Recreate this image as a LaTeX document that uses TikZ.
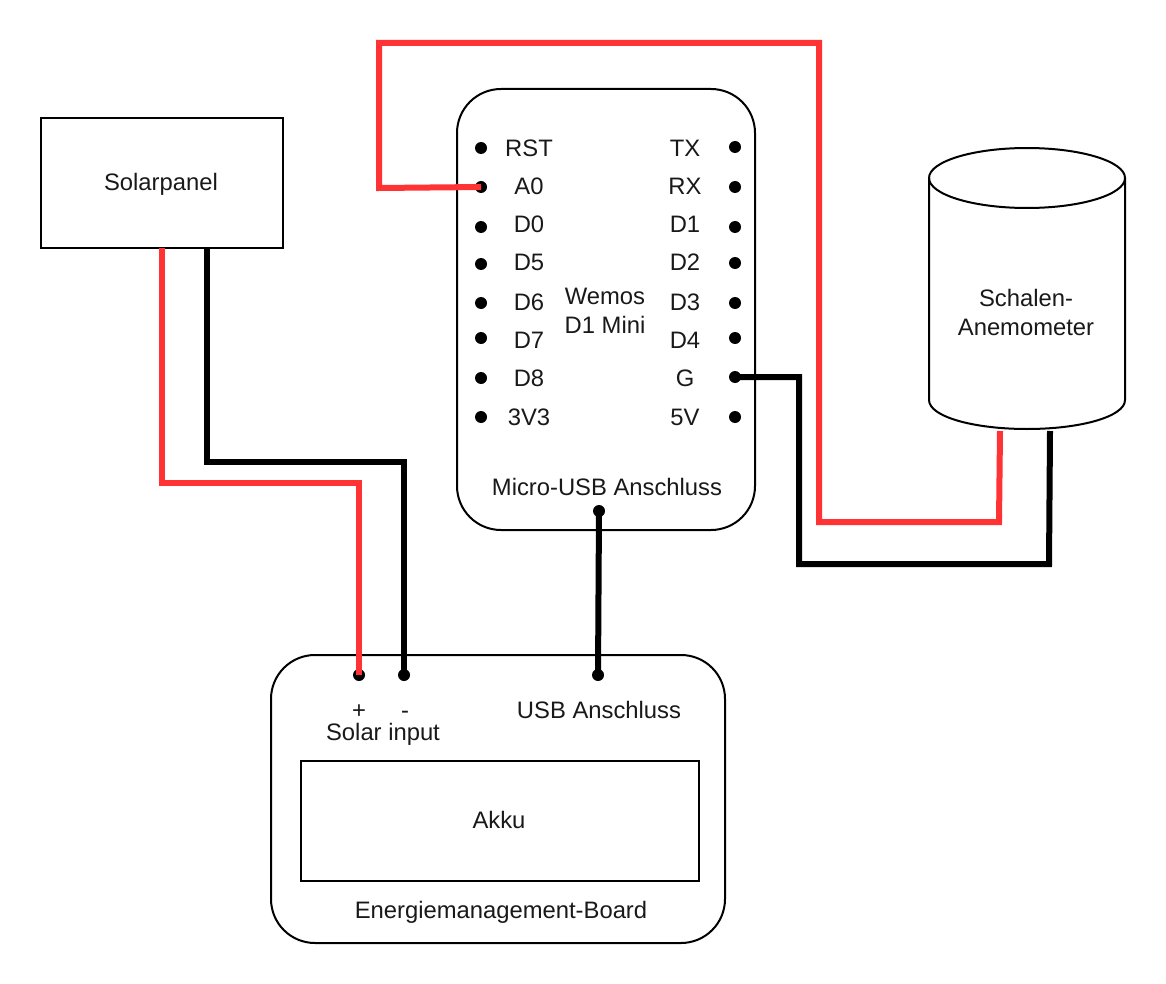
\documentclass[tikz,border=0pt]{standalone}
\usepackage{fontspec}
\setmainfont{Liberation Sans}
\definecolor{wirered}{HTML}{FF3333}
\tikzset{
  x=1pt,y=-1pt,
  box/.style={draw=black,line width=2pt,fill=none,inner sep=0pt},
  lab/.style={font=\fontsize{23.8}{27}\selectfont,inner sep=0pt,align=center,anchor=base,yshift=-8.5pt,text=black!90},
  pin/.style={circle,fill=black,draw=none,minimum size=12pt,inner sep=0pt},
  redw/.style={draw=wirered,line width=6pt,miter limit=10},
  blkw/.style={draw=black,line width=6pt,miter limit=10},
}
\begin{document}
\begin{tikzpicture}
\useasboundingbox (0,0) rectangle (1166,984);
\fill[white] (0,0) rectangle (1166,984);
% boxes
\node[box,minimum width=242pt,minimum height=130pt] (solar) at (162,183) {};
\node[lab] at (161,182) {Solarpanel};
\draw[box,rounded corners=44pt] (457,89) rectangle (755,530);
\draw[box,rounded corners=44pt] (271,655) rectangle (725,943);
\node[box,minimum width=398pt,minimum height=120pt] (akku) at (500,821) {};
\node[lab] at (499,820) {Akku};
% cylinder
\draw[box] (929,178) .. controls (929,161.5) and (973,148) .. (1027,148) .. controls (1081,148) and (1125,161.5) .. (1125,178) -- (1125,400) .. controls (1125,416.5) and (1081,429) .. (1027,429) .. controls (973,429) and (929,416.5) .. (929,400) -- cycle;
\draw[box] (929,178) .. controls (929,194.5) and (973,208) .. (1027,208) .. controls (1081,208) and (1125,194.5) .. (1125,178);
\node[lab] at (1026,298) {Schalen-};
\node[lab] at (1026,327) {Anemometer};
% text
\node[lab] at (605,296) {Wemos};
\node[lab] at (605,325) {D1 Mini};
\node[lab] at (607,487) {Micro-USB Anschluss};
\node[lab] at (599,710) {USB Anschluss};
\node[lab] at (359,709.5) {+};
\node[lab] at (405,709.5) {-};
\node[lab] at (383,732) {Solar input};
\node[lab] at (501,910) {Energiemanagement-Board};
% pins
\foreach \n/\l/\y/\ty in {rst/RST/148/148,a0/A0/187/186,d0/D0/227/224,d5/D5/264/262,d6/D6/303/302,d7/D7/338/340,d8/D8/378/378,v3/3V3/417/417}{
  \node[pin] (\n) at (481,\y) {};
  \node[lab] at (529,\ty) {\l};
}
\foreach \n/\l/\y/\ty in {tx/TX/147/148,rx/RX/187/186,d1/D1/227/224,d2/D2/263/262,d3/D3/303/302,d4/D4/338/340,g/G/377/378,v5/5V/417/417}{
  \node[pin] (\n) at (735,\y) {};
  \node[lab] at (685,\ty) {\l};
}
\node[pin] (usbm) at (599,511) {};
\node[pin] (usbb) at (598,675) {};
\node[pin] (plus) at (359,675) {};
\node[pin] (minus) at (404,675) {};
\coordinate (cr) at (1000,431);
\coordinate (cb) at (1050,431);
\coordinate (sr) at (162,248);
\coordinate (sb) at (207,248);
% wires
\draw[redw] (sr) -- (162,483) -- (359,483) -- (plus.center);
\draw[blkw] (sb) -- (207,462) -- (404,462) -- (minus.center);
\draw[blkw] (usbm.center) -- (usbb.center);
\draw[redw] (a0.center) -- (379,188) -- (379,43) -- (819,43) -- (819,522) -- (999,522) -- (cr);
\draw[blkw] (g.center) -- (799,377) -- (799,564) -- (1049,564) -- (cb);
\end{tikzpicture}
\end{document}
